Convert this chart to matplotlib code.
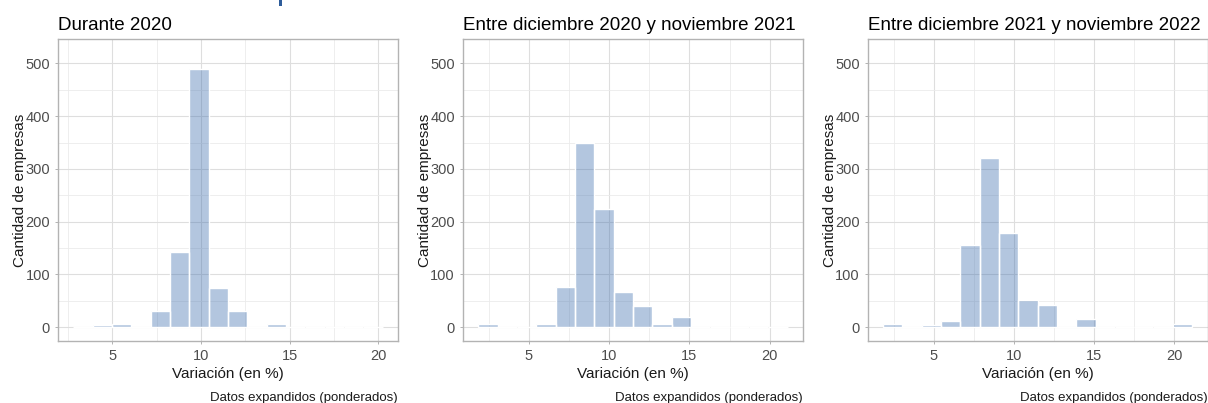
import numpy as np
import matplotlib
matplotlib.use('Agg')
from matplotlib import pyplot as plt
from matplotlib.patches import Rectangle
from matplotlib.ticker import MultipleLocator

plt.rcParams['font.family'] = ['Liberation Sans', 'DejaVu Sans']

# títulos de cada panel
titulos = ['Durante 2020',
           'Entre diciembre 2020 y noviembre 2021',
           'Entre diciembre 2021 y noviembre 2022']

# bordes de los bins (inicio, ancho, cantidad)
inicio_bins = [2.82, 1.833, 1.833]
ancho_bins = [1.088, 1.205, 1.205]
n_bins = 16

# cantidad de empresas por bin
conteo_2020 = [0, 4, 6, 0, 31, 143, 489, 75, 31, 0, 6, 0, 0, 0, 0, 0]
conteo_2021 = [6, 0, 0, 6, 76, 350, 224, 66, 40, 6, 20, 0, 0, 0, 0, 0]
conteo_2022 = [6, 0, 4, 12, 156, 321, 179, 52, 42, 0, 16, 0, 0, 0, 0, 6]
conteos = [conteo_2020, conteo_2021, conteo_2022]

W, H = 1208, 403
fig = plt.figure(figsize=(W / 100, H / 100), dpi=100)

# posiciones de los paneles en pixeles (izq, der)
paneles = [(58, 398), (462.7, 803), (867.7, 1207.5)]
arriba, abajo = 39.3, 340.7

for i, (izq, der) in enumerate(paneles):
    ax = fig.add_axes([izq / W, 1 - abajo / H, (der - izq) / W, (abajo - arriba) / H])
    bordes = inicio_bins[i] + ancho_bins[i] * np.arange(n_bins + 1)
    centros = (bordes[:-1] + bordes[1:]) / 2
    ax.hist(centros, bins=bordes, weights=conteos[i], color='#4272B0', alpha=0.4,
            edgecolor='none', zorder=3)
    # mismos bins, borde blanco opaco
    ax.hist(centros, bins=bordes, weights=conteos[i], histtype='bar', facecolor='none',
            edgecolor='white', linewidth=1.0, zorder=4)

    rango = bordes[-1] - bordes[0]
    ax.set_xlim(bordes[0] - 0.05 * rango, bordes[-1] + 0.05 * rango)
    ax.set_ylim(-25.4, 545.5)
    ax.set_xticks([5, 10, 15, 20])
    ax.set_yticks([0, 100, 200, 300, 400, 500])
    ax.xaxis.set_minor_locator(MultipleLocator(2.5))
    ax.yaxis.set_minor_locator(MultipleLocator(50))
    ax.grid(True, which='major', color='#DEDEDE', linewidth=0.8, zorder=0)
    ax.grid(True, which='minor', color='#EBEBEB', linewidth=0.6, zorder=0)
    ax.set_axisbelow(True)
    for s in ax.spines.values():
        s.set_color('#B3B3B3')
        s.set_linewidth(1.0)
    ax.tick_params(which='major', length=2.2, width=0.7, color='#B3B3B3',
                   labelsize=10.5, labelcolor='#4D4D4D', pad=3.5)
    ax.tick_params(which='minor', length=0)

    ax.set_title(titulos[i], loc='left', fontsize=13.5, color='black', pad=7)
    ax.set_xlabel('Variación (en %)', fontsize=11, color='#1A1A1A', labelpad=3)
    ax.set_ylabel('Cantidad de empresas', fontsize=11, color='#1A1A1A', labelpad=-1)
    ax.text(1.0, -0.17, 'Datos expandidos (ponderados)', transform=ax.transAxes,
            ha='right', va='top', fontsize=9.5, color='#1A1A1A')

# fragmento del título superior recortado
fig.patches.append(Rectangle((279 / W, 1 - 6 / H), 3 / W, 6 / H, transform=fig.transFigure,
                             facecolor='#2E5C9A', edgecolor='none'))

plt.savefig('out.png', dpi=100)
